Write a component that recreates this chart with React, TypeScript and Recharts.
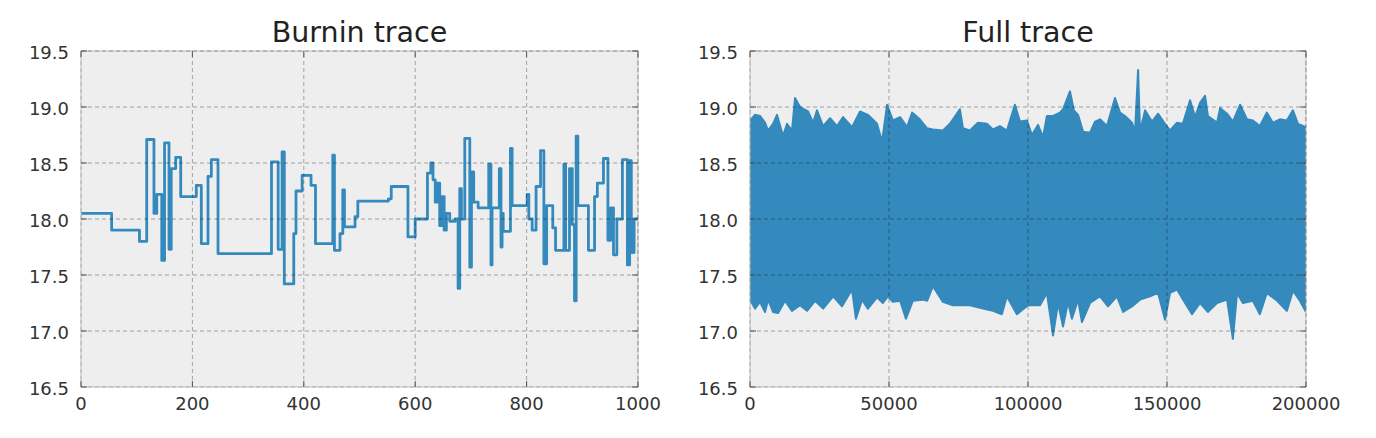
import React from "react";
import {
  ComposedChart,
  Line,
  Area,
  XAxis,
  YAxis,
  CartesianGrid,
  ReferenceLine,
} from "recharts";

// ---------- data ----------
const burninIter = [
  0, 55, 105, 118, 131, 136, 145, 150, 158, 162, 170, 179, 207, 216, 228, 234, 246,
  342, 354, 361, 365, 382, 386, 397, 413, 421, 452, 455, 465, 470, 473, 492, 497,
  552, 557, 587, 600, 622, 628, 632, 636, 640, 644, 648, 652, 656, 662, 672, 677,
  680, 683, 689, 698, 701, 705, 713, 732, 736, 738, 751, 754, 756, 758, 771, 774,
  801, 804, 810, 817, 825, 831, 836, 847, 852, 867, 870, 877, 882, 886, 889, 892,
  911, 922, 927, 938, 946, 951, 956, 962, 972, 981, 985, 988, 993, 1000,
];
const burninValue = [
  18.05, 17.9, 17.8, 18.71, 18.05, 18.22, 17.63, 18.68, 17.73, 18.45, 18.55, 18.2, 18.3, 17.78, 18.38, 18.53, 17.69,
  18.51, 17.73, 18.6, 17.42, 17.87, 18.25, 18.39, 18.3, 17.78, 18.57, 17.72, 17.87, 18.26, 17.93, 18.02, 18.16,
  18.18, 18.29, 17.84, 18.0, 18.41, 18.5, 18.35, 18.15, 18.32, 17.94, 18.2, 17.9, 18.05, 17.98, 18.0, 17.38,
  18.27, 18.0, 18.72, 17.57, 18.42, 18.15, 18.1, 18.49, 17.59, 18.1, 18.45, 17.75, 18.05, 17.89, 18.63, 18.12,
  18.22, 18.0, 17.9, 18.29, 18.61, 17.6, 18.12, 17.92, 17.72, 18.49, 17.72, 18.45, 17.95, 17.27, 18.74, 18.12,
  17.72, 18.2, 18.32, 18.54, 17.81, 18.1, 17.68, 18.0, 18.53, 17.59, 18.52, 17.7, 18.0, 18.02,
];

const fullUpperIter = [
  0, 1800, 3600, 5400, 6500, 8300, 9700, 11200, 11900, 13300, 15100, 16200, 18000, 20900, 22700, 24100,
  26300, 28800, 31300, 33500, 36700, 39600, 42400, 45700, 47500, 49300, 51400, 54000, 56500, 58300, 61100,
  63700, 65800, 69400, 71900, 75500, 76600, 79100, 82000, 85200, 87400, 89900, 92400, 95300, 97100, 99600,
  101400, 103600, 105400, 106800, 109000, 111500, 112600, 115100, 116500, 118000, 119800, 122300, 124100,
  125900, 128400, 131300, 133100, 134900, 137400, 138500, 139600, 140300, 142100, 144600, 146800, 149300,
  151100, 153600, 155700, 158300, 160100, 161900, 163700, 164700, 168000, 169100, 171600, 173700, 176300,
  178800, 180900, 183400, 185900, 188100, 190600, 193100, 195300, 197100, 200000,
];
const fullUpperValue = [
  18.88, 18.93, 18.92, 18.86, 18.79, 18.85, 18.93, 18.8, 18.74, 18.85, 18.79, 19.08, 19.0, 18.96, 18.86, 18.97,
  18.83, 18.9, 18.83, 18.91, 18.82, 18.96, 18.93, 18.85, 18.69, 19.02, 18.88, 18.91, 18.82, 18.95, 18.89,
  18.81, 18.8, 18.79, 18.85, 18.98, 18.81, 18.79, 18.86, 18.85, 18.8, 18.83, 18.79, 19.02, 18.87, 18.88,
  18.75, 18.84, 18.73, 18.92, 18.92, 18.95, 18.98, 19.14, 18.97, 18.93, 18.78, 18.77, 18.87,
  18.89, 18.83, 19.08, 18.95, 18.92, 18.86, 18.78, 19.33, 18.78, 18.97, 18.87, 18.94, 18.85,
  18.79, 18.86, 18.85, 19.06, 18.91, 19.04, 19.1, 18.92, 18.86, 18.99, 18.94, 18.87, 19.02,
  18.89, 18.88, 18.83, 18.95, 18.86, 18.89, 18.88, 18.97, 18.85, 18.82,
];

const fullLowerIter = [
  0, 1800, 3600, 5400, 6500, 8300, 10100, 12600, 15100, 18000, 20500, 23400, 26300, 29900, 33100, 36700,
  38100, 40300, 42400, 45700, 47800, 49600, 51400, 54000, 56100, 58600, 62200, 63700, 65800, 69400, 73000,
  79100, 83800, 87400, 90600, 92400, 96000, 100000, 104300, 106800, 109000, 110800, 112600, 114400, 115800,
  118000, 119400, 122300, 125900, 128800, 132000, 134200, 137400, 140300, 143900, 146800, 149300, 151100,
  153600, 156500, 159000, 161900, 164700, 168000, 171600, 173700, 175200, 177300, 180900, 183400, 185900,
  189600, 193100, 195300, 197800, 200000,
];
const fullLowerValue = [
  17.28, 17.2, 17.26, 17.17, 17.28, 17.17, 17.16, 17.27, 17.18, 17.23, 17.18, 17.27, 17.2, 17.31, 17.22, 17.37,
  17.11, 17.28, 17.2, 17.3, 17.25, 17.31, 17.26, 17.27, 17.11, 17.27, 17.28, 17.27, 17.4, 17.26, 17.23,
  17.23, 17.2, 17.18, 17.15, 17.31, 17.15, 17.23, 17.23, 17.34, 16.96, 17.25, 17.04, 17.26, 17.11,
  17.28, 17.08, 17.25, 17.31, 17.22, 17.31, 17.17, 17.22, 17.28, 17.31, 17.34, 17.1, 17.34,
  17.37, 17.25, 17.15, 17.25, 17.17, 17.25, 17.28, 16.93, 17.34, 17.25, 17.27, 17.15, 17.34,
  17.27, 17.18, 17.36, 17.27, 17.17,
];

const yTicks = [16.5, 17.0, 17.5, 18.0, 18.5, 19.0, 19.5];
const burninXTicks = [0, 200, 400, 600, 800, 1000];
const fullXTicks = [0, 50000, 100000, 150000, 200000];
const titles = ["Burnin trace", "Full trace"];

// ---------- derived tables ----------
const burninData = burninIter.map((x, i) => ({ x, v: burninValue[i] }));
const fullUpper = fullUpperIter.map((x, i) => ({ x, v: fullUpperValue[i] }));
const fullLower = fullLowerIter.map((x, i) => ({ x, v: fullLowerValue[i] }));

// ---------- styling ----------
const BLUE = "#348ABD";
const FONT = "DejaVu Sans, sans-serif";
const TICK_COLOR = "#333333";
const TICK_SIZE = 18;
const PLOT_W = 557;
const PLOT_H = 336;
const GRID = "rgba(0,0,0,0.32)";
const FRAME = "#bcbcbc";

const makeYTick = (plotW: number) => (props: any) => {
  const { x, y, payload } = props;
  const ax = x + 12;
  return (
    <g>
      <text
        x={x}
        y={y + 1}
        textAnchor="end"
        dominantBaseline="central"
        fontSize={TICK_SIZE}
        fontFamily={FONT}
        fill={TICK_COLOR}
      >
        {Number(payload.value).toFixed(1)}
      </text>
      <line x1={ax} x2={ax + 6} y1={y} y2={y} stroke="#555" strokeWidth={1} />
      <line x1={ax + plotW - 6} x2={ax + plotW} y1={y} y2={y} stroke="#555" strokeWidth={1} />
    </g>
  );
};

const makeXTick = (plotH: number) => (props: any) => {
  const { x, y, payload } = props;
  const ay = y - 10;
  return (
    <g>
      <text
        x={x}
        y={y}
        dy="0.72em"
        textAnchor="middle"
        fontSize={TICK_SIZE}
        fontFamily={FONT}
        fill={TICK_COLOR}
      >
        {String(payload.value)}
      </text>
      <line x1={x} x2={x} y1={ay} y2={ay - 6} stroke="#555" strokeWidth={1} />
      <line x1={x} x2={x} y1={ay - plotH} y2={ay - plotH + 6} stroke="#555" strokeWidth={1} />
    </g>
  );
};

const gridLines = (xTicks: number[], xMax: number) => [
  <ReferenceLine key="ft" y={19.5} stroke={FRAME} strokeWidth={1} ifOverflow="visible" />,
  <ReferenceLine key="fr" x={xMax} stroke={FRAME} strokeWidth={1} ifOverflow="visible" />,
  ...yTicks.map((t) => (
    <ReferenceLine key={"gy" + t} y={t} stroke={GRID} strokeDasharray="4 3" strokeWidth={1} ifOverflow="visible" />
  )),
  ...xTicks.map((t) => (
    <ReferenceLine key={"gx" + t} x={t} stroke={GRID} strokeDasharray="4 3" strokeWidth={1} ifOverflow="visible" />
  )),
];

export default function App() {
  return (
    <div
      style={{
        position: "fixed",
        left: 0,
        top: 0,
        width: 1376,
        height: 438,
        background: "#ffffff",
        overflow: "hidden",
      }}
    >
      {/* Burnin trace */}
      <div style={{ position: "absolute", left: 0, top: 0 }}>
        <ComposedChart width={690} height={438} margin={{ top: 51, right: 52, bottom: 21, left: 0 }}>
          <CartesianGrid fill="#eeeeee" fillOpacity={1} horizontal={false} vertical={false} />
          <XAxis
            dataKey="x"
            type="number"
            domain={[0, 1000]}
            ticks={burninXTicks}
            height={30}
            tickSize={0}
            tickMargin={10}
            axisLine={{ stroke: FRAME }}
            tickLine={false}
            tick={makeXTick(PLOT_H)}
            allowDataOverflow
          />
          <YAxis
            type="number"
            domain={[16.5, 19.5]}
            ticks={yTicks}
            width={81}
            tickSize={0}
            tickMargin={12}
            axisLine={{ stroke: FRAME }}
            tickLine={false}
            tick={makeYTick(PLOT_W)}
            allowDataOverflow
          />
          <Line
            data={burninData}
            dataKey="v"
            type="stepAfter"
            stroke={BLUE}
            strokeWidth={2.8}
            strokeLinejoin="round"
            dot={false}
            activeDot={false}
            isAnimationActive={false}
          />
          {gridLines(burninXTicks, 1000)}
        </ComposedChart>
      </div>

      {/* Full trace */}
      <div style={{ position: "absolute", left: 680, top: 0 }}>
        <ComposedChart width={696} height={438} margin={{ top: 51, right: 70, bottom: 21, left: 0 }}>
          <CartesianGrid fill="#eeeeee" fillOpacity={1} horizontal={false} vertical={false} />
          <XAxis
            dataKey="x"
            type="number"
            domain={[0, 200000]}
            ticks={fullXTicks}
            height={30}
            tickSize={0}
            tickMargin={10}
            axisLine={{ stroke: FRAME }}
            tickLine={false}
            tick={makeXTick(PLOT_H)}
            allowDataOverflow
          />
          <YAxis
            type="number"
            domain={[16.5, 19.5]}
            ticks={yTicks}
            width={70}
            tickSize={0}
            tickMargin={12}
            axisLine={{ stroke: FRAME }}
            tickLine={false}
            tick={makeYTick(556)}
            allowDataOverflow
          />
          <Area
            data={fullUpper}
            dataKey="v"
            type="linear"
            baseValue={18}
            stroke={BLUE}
            strokeWidth={2}
            strokeLinejoin="round"
            fill={BLUE}
            fillOpacity={1}
            dot={false}
            activeDot={false}
            isAnimationActive={false}
          />
          <Area
            data={fullLower}
            dataKey="v"
            type="linear"
            baseValue={18}
            stroke={BLUE}
            strokeWidth={2}
            strokeLinejoin="round"
            fill={BLUE}
            fillOpacity={1}
            dot={false}
            activeDot={false}
            isAnimationActive={false}
          />
          {gridLines(fullXTicks, 200000)}
        </ComposedChart>
      </div>

      {/* Titles */}
      <svg
        width={1376}
        height={438}
        style={{ position: "absolute", left: 0, top: 0, pointerEvents: "none" }}
      >
        <text x={359.5} y={42} textAnchor="middle" fontSize={28.5} fontFamily={FONT} fill="#222">
          {titles[0]}
        </text>
        <text x={1028} y={42} textAnchor="middle" fontSize={28.5} fontFamily={FONT} fill="#222">
          {titles[1]}
        </text>
      </svg>
    </div>
  );
}
